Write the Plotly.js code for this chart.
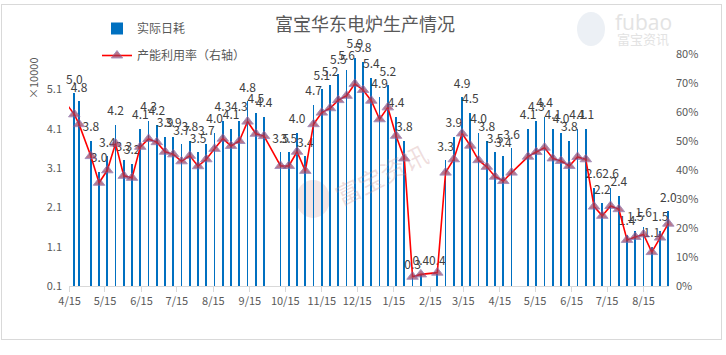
<!DOCTYPE html>
<html><head><meta charset="utf-8">
<script src="https://cdn.plot.ly/plotly-3.0.1.min.js"></script>
<style>
html,body{margin:0;padding:0;background:#fff;}
#frame{position:absolute;left:1px;top:4px;width:721px;height:336px;border:1px solid #d9d9d9;box-sizing:border-box;}
#chart{position:absolute;left:0;top:0;width:726px;height:355px;}
</style></head><body>
<div id="frame"></div><div id="chart"></div>
<script>
// ---- data ----
const dates = [
 '2018-04-19','2018-04-23','2018-05-03','2018-05-10','2018-05-17','2018-05-24','2018-05-31',
 '2018-06-07','2018-06-14','2018-06-21','2018-06-28','2018-07-05','2018-07-12','2018-07-19',
 '2018-07-26','2018-08-02','2018-08-09','2018-08-16','2018-08-23','2018-08-30','2018-09-06',
 '2018-09-13','2018-09-20','2018-09-27','2018-10-11','2018-10-18','2018-10-25','2018-11-01',
 '2018-11-08','2018-11-15','2018-11-22','2018-11-29','2018-12-06','2018-12-13','2018-12-20',
 '2018-12-27','2019-01-03','2019-01-10','2019-01-17','2019-01-24','2019-01-31','2019-02-07',
 '2019-02-21','2019-02-28','2019-03-07','2019-03-14','2019-03-21','2019-03-28','2019-04-04',
 '2019-04-11','2019-04-18','2019-04-25','2019-05-09','2019-05-16','2019-05-23','2019-05-30',
 '2019-06-06','2019-06-13','2019-06-20','2019-06-27','2019-07-04','2019-07-11','2019-07-18',
 '2019-07-25','2019-08-01','2019-08-08','2019-08-15','2019-08-22','2019-08-29','2019-09-05'
];
// 实际日耗 (×10000)
const dailyUse = [
 5.0,4.8,3.8,3.0,3.4,4.2,3.3,3.2,4.1,4.3,4.2,3.9,3.9,3.7,
 3.8,3.5,3.7,4.0,4.3,4.1,4.3,4.8,4.5,4.4,3.5,3.5,4.0,3.4,
 4.7,5.1,5.2,5.5,5.6,5.9,5.8,5.4,4.9,5.2,4.4,3.8,0.3,0.4,
 0.4,3.3,3.9,4.9,4.5,4.0,3.8,3.5,3.4,3.6,4.1,4.3,4.4,4.1,
 4.0,3.8,4.1,4.1,2.6,2.2,2.6,2.4,1.4,1.5,1.6,1.1,1.5,2.0
];
// 产能利用率 (右轴)
const utilRate = [
 0.592,0.558,0.448,0.356,0.399,0.491,0.380,0.373,0.480,0.507,0.496,0.463,0.454,0.430,
 0.449,0.413,0.437,0.473,0.508,0.483,0.500,0.567,0.525,0.517,0.414,0.414,0.463,0.397,
 0.558,0.598,0.613,0.641,0.656,0.697,0.676,0.639,0.575,0.616,0.518,0.440,0.032,0.040,
 0.046,0.391,0.437,0.526,0.484,0.434,0.411,0.377,0.362,0.391,0.446,0.462,0.477,0.440,
 0.431,0.414,0.445,0.437,0.274,0.242,0.276,0.265,0.159,0.169,0.178,0.117,0.167,0.215
];
// previous week's point (left of the axis start, only its line segment is visible)
const utilLeadDate = '2018-04-12';
const utilLeadValue = 0.63;

const tickDates = ['2018-04-15','2018-05-15','2018-06-15','2018-07-15','2018-08-15','2018-09-15',
 '2018-10-15','2018-11-15','2018-12-15','2019-01-15','2019-02-15','2019-03-15','2019-04-15',
 '2019-05-15','2019-06-15','2019-07-15','2019-08-15'];
const tickLabels = ['4/15','5/15','6/15','7/15','8/15','9/15','10/15','11/15','12/15','1/15',
 '2/15','3/15','4/15','5/15','6/15','7/15','8/15'];
const leftTicks = [0.1,1.1,2.1,3.1,4.1,5.1];

// ---- chart ----
const FONT = "'Noto Sans CJK SC','Microsoft YaHei',sans-serif";
const axisStart = '2018-04-14 12:00';
const utilDates = [utilLeadDate].concat(dates);
const utilVals = [utilLeadValue].concat(utilRate);
const utilSizes = utilDates.map(d => d < axisStart ? 0 : 10);
const DAY = 86400000;

const traces = [
 {type:'bar', name:'实际日耗', x:dates, y:dailyUse, width:1.5*DAY,
  marker:{color:'#0070C0', line:{width:0}}, legendgroup:'a', hoverinfo:'skip'},
 {type:'scatter', mode:'markers+text', x:dates, y:dailyUse, text:dailyUse.map(v=>v.toFixed(1)),
  textposition:'top center', textfont:{family:FONT, size:12, color:'#404040'},
  marker:{size:9, opacity:0}, cliponaxis:false, showlegend:false, hoverinfo:'skip'},
 {type:'scatter', mode:'lines+markers', name:'产能利用率（右轴）', x:utilDates, y:utilVals, yaxis:'y2',
  line:{color:'#FF0000', width:1.6},
  marker:{symbol:'triangle-up', size:utilSizes, color:'#9B3B5B', line:{color:'#8064A2', width:1}},
  cliponaxis:false, legendgroup:'b', hoverinfo:'skip'}
];

const px = x => (x-69)/600, py = y => (286-y)/232;

const layout = {
 width:726, height:355,
 margin:{l:69, r:57, t:54, b:69},
 paper_bgcolor:'rgba(0,0,0,0)', plot_bgcolor:'rgba(0,0,0,0)',
 font:{family:FONT, size:11, color:'#595959'},
 title:{text:'富宝华东电炉生产情况', font:{family:FONT, size:18, color:'#595959'},
  x:365/726, xref:'container', xanchor:'center', y:1-25/355, yref:'container', yanchor:'middle'},
 showlegend:true,
 legend:{x:px(97), y:py(14), xanchor:'left', yanchor:'top', bgcolor:'rgba(0,0,0,0)',
  font:{family:FONT, size:12, color:'#595959'}, tracegroupgap:8, traceorder:'grouped'},
 bargap:0,
 xaxis:{type:'date', range:[axisStart,'2019-09-05 14:00'], tickvals:tickDates, ticktext:tickLabels,
  showgrid:false, zeroline:false, showline:true, linecolor:'#d9d9d9', linewidth:1,
  ticks:'outside', ticklen:5, tickcolor:'#d9d9d9', tickfont:{family:FONT, size:11, color:'#595959'}},
 yaxis:{range:[0.1,6.0], tickvals:leftTicks, ticktext:leftTicks.map(v=>v.toFixed(1)),
  showgrid:false, zeroline:false, showline:false, ticks:'', ticklabelstandoff:6,
  tickfont:{family:FONT, size:11, color:'#595959'}},
 yaxis2:{overlaying:'y', side:'right', range:[0,0.8], dtick:0.1, tickformat:'.0%',
  showgrid:false, zeroline:false, showline:false, ticks:'', ticklabelstandoff:6,
  tickfont:{family:FONT, size:11, color:'#595959'}},
 shapes:[
  {type:'circle', xref:'paper', yref:'paper', x0:px(296), x1:px(330), y0:py(218), y1:py(180),
   fillcolor:'rgba(215,170,170,0.30)', line:{width:0}, layer:'below'},
  {type:'circle', xref:'paper', yref:'paper', x0:px(577), x1:px(605), y0:py(46), y1:py(12),
   fillcolor:'rgba(200,212,225,0.35)', line:{width:0}, layer:'below'}
 ],
 annotations:[
  {text:'×10000', xref:'paper', yref:'paper', x:px(33), y:py(78), xanchor:'center', yanchor:'middle',
   showarrow:false, textangle:-90, font:{family:FONT, size:11, color:'#595959'}},
  {text:'富宝资讯', xref:'paper', yref:'paper', x:px(381), y:py(174), xanchor:'center', yanchor:'middle',
   showarrow:false, textangle:-27, font:{family:FONT, size:25, color:'rgba(200,140,140,0.28)'}},
  {text:'fubao', xref:'paper', yref:'paper', x:px(643), y:py(22), xanchor:'center', yanchor:'middle',
   showarrow:false, font:{family:"'Open Sans',sans-serif", size:21, color:'#e3e3e3'}},
  {text:'富宝资讯', xref:'paper', yref:'paper', x:px(643), y:py(38), xanchor:'center', yanchor:'middle',
   showarrow:false, font:{family:FONT, size:13, color:'#e3e3e3'}}
 ]
};

Plotly.newPlot('chart', traces, layout, {staticPlot:true, displayModeBar:false});
</script>
</body></html>
